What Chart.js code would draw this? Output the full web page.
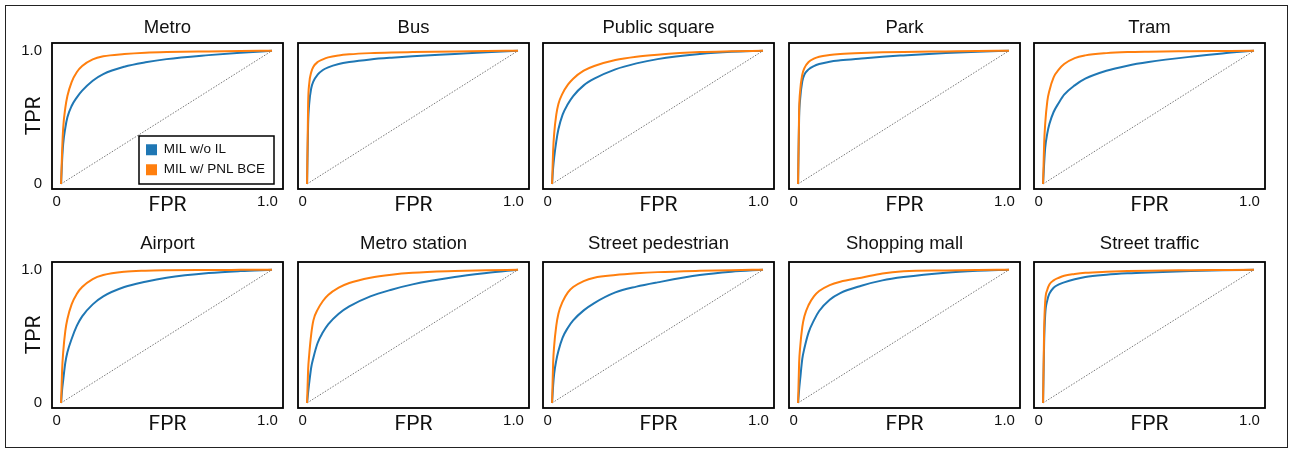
<!DOCTYPE html>
<html>
<head>
<meta charset="utf-8">
<script src="https://cdn.jsdelivr.net/npm/chart.js@4/dist/chart.umd.min.js"></script>
<style>
  body { margin: 0; background: #fff; }
  #frame { position: absolute; left: 5px; top: 5px; width: 1283px; height: 443px; border: 1.5px solid #222; box-sizing: border-box; }
  canvas { position: absolute; }
</style>
</head>
<body>
<div id="frame"></div>
<div id="panels"></div>
<script>
// data
var categories = ['Metro', 'Bus', 'Public square', 'Park', 'Tram',
                  'Airport', 'Metro station', 'Street pedestrian', 'Shopping mall', 'Street traffic'];
var seriesNames = ['MIL w/o IL', 'MIL w/ PNL BCE'];
var fpr = [0, 0.005, 0.01, 0.02, 0.03, 0.05, 0.075, 0.1, 0.15, 0.2, 0.3, 0.4, 0.5, 0.7, 0.85, 1.0];
var tprWithoutIL = [
  [0, 0.18, 0.30, 0.42, 0.50, 0.585, 0.65, 0.70, 0.775, 0.825, 0.88, 0.913, 0.937, 0.967, 0.985, 1],
  [0, 0.45, 0.60, 0.72, 0.77, 0.82, 0.855, 0.875, 0.90, 0.915, 0.935, 0.948, 0.958, 0.975, 0.988, 1],
  [0, 0.12, 0.20, 0.32, 0.41, 0.52, 0.60, 0.66, 0.74, 0.79, 0.86, 0.905, 0.937, 0.975, 0.992, 1],
  [0, 0.50, 0.64, 0.77, 0.82, 0.86, 0.885, 0.90, 0.918, 0.928, 0.942, 0.955, 0.965, 0.983, 0.993, 1],
  [0, 0.15, 0.27, 0.38, 0.45, 0.54, 0.61, 0.67, 0.74, 0.79, 0.85, 0.888, 0.915, 0.955, 0.98, 1],
  [0, 0.10, 0.17, 0.30, 0.38, 0.48, 0.58, 0.65, 0.74, 0.80, 0.87, 0.91, 0.94, 0.975, 0.99, 1],
  [0, 0.08, 0.15, 0.27, 0.34, 0.45, 0.53, 0.59, 0.67, 0.725, 0.80, 0.85, 0.89, 0.945, 0.975, 1],
  [0, 0.13, 0.22, 0.32, 0.39, 0.49, 0.565, 0.62, 0.695, 0.75, 0.83, 0.873, 0.905, 0.96, 0.985, 1],
  [0, 0.10, 0.18, 0.33, 0.41, 0.53, 0.62, 0.69, 0.775, 0.825, 0.88, 0.92, 0.945, 0.978, 0.992, 1],
  [0, 0.45, 0.66, 0.77, 0.82, 0.865, 0.89, 0.905, 0.928, 0.945, 0.962, 0.973, 0.98, 0.99, 0.996, 1]
];
var tprPnlBce = [
  [0, 0.25, 0.42, 0.57, 0.66, 0.765, 0.84, 0.885, 0.935, 0.958, 0.975, 0.985, 0.99, 0.995, 0.998, 1],
  [0, 0.60, 0.75, 0.84, 0.88, 0.915, 0.935, 0.95, 0.965, 0.973, 0.982, 0.987, 0.99, 0.995, 0.998, 1],
  [0, 0.25, 0.38, 0.52, 0.60, 0.68, 0.745, 0.79, 0.85, 0.885, 0.93, 0.955, 0.97, 0.99, 0.996, 1],
  [0, 0.55, 0.70, 0.82, 0.87, 0.915, 0.94, 0.955, 0.968, 0.975, 0.983, 0.988, 0.991, 0.995, 0.998, 1],
  [0, 0.30, 0.45, 0.62, 0.70, 0.80, 0.86, 0.90, 0.945, 0.965, 0.982, 0.99, 0.993, 0.996, 0.998, 1],
  [0, 0.25, 0.38, 0.54, 0.63, 0.74, 0.82, 0.87, 0.93, 0.96, 0.985, 0.993, 0.996, 0.998, 0.999, 1],
  [0, 0.25, 0.36, 0.52, 0.62, 0.70, 0.765, 0.81, 0.865, 0.90, 0.94, 0.963, 0.977, 0.99, 0.996, 1],
  [0, 0.30, 0.43, 0.58, 0.67, 0.76, 0.83, 0.87, 0.915, 0.94, 0.96, 0.973, 0.982, 0.992, 0.997, 1],
  [0, 0.30, 0.42, 0.57, 0.65, 0.735, 0.80, 0.84, 0.885, 0.91, 0.94, 0.972, 0.988, 0.995, 0.998, 1],
  [0, 0.55, 0.76, 0.85, 0.89, 0.92, 0.94, 0.955, 0.968, 0.977, 0.985, 0.99, 0.993, 0.996, 0.998, 1]
];
var chanceLine = [0, 1];
var tickValues = [0, 1];
var tickLabels = ['0', '1.0'];

var BLUE = '#1f77b4';
var ORANGE = '#ff7f0e';
var FONT = "'Liberation Sans', Arial, sans-serif";

function points(xs, ys) {
  var out = [];
  for (var i = 0; i < xs.length; i++) out.push({ x: xs[i], y: ys[i] });
  return out;
}

// black box round the plot area, plus the legend frame on the first panel
var framePlugin = {
  id: 'frameBox',
  afterLayout: function(chart) {
    var lg = chart.legend;
    if (!chart.options.plugins.legend.display || !lg) return;
    lg.left = 139.5; lg.top = 122.5; lg.right = 274; lg.bottom = 180;
    lg.width = lg.right - lg.left; lg.height = lg.bottom - lg.top;
  },
  afterDraw: function(chart) {
    var a = chart.chartArea, ctx = chart.ctx;
    ctx.save();
    ctx.strokeStyle = '#000';
    ctx.lineWidth = 1.8;
    ctx.strokeRect(a.left, a.top, a.right - a.left, a.bottom - a.top);
    if (chart.options.plugins.legend.display) {
      ctx.lineWidth = 1.5;
      ctx.strokeRect(139, 122, 135, 48);
    }
    ctx.restore();
  }
};

var holder = document.getElementById('panels');
for (let k = 0; k < categories.length; k++) {
  let row = Math.floor(k / 5), col = k % 5;
  let boxLeft = 52 + col * 245.5;
  let boxTop = row == 0 ? 43 : 262;
  let cv = document.createElement('canvas');
  cv.style.left = (boxLeft - 52) + 'px';
  cv.style.top = (boxTop - 29) + 'px';
  cv.style.width = '293px';
  cv.style.height = '205px';
  cv.width = 293; cv.height = 205;
  holder.appendChild(cv);

  let firstCol = col == 0;
  new Chart(cv.getContext('2d'), {
    type: 'scatter',
    data: {
      datasets: [{
        label: seriesNames[0],
        data: points(fpr, tprWithoutIL[k]),
        showLine: true, borderColor: BLUE, backgroundColor: BLUE,
        borderWidth: 2, pointRadius: 0, cubicInterpolationMode: 'monotone', order: 2
      }, {
        label: seriesNames[1],
        data: points(fpr, tprPnlBce[k]),
        showLine: true, borderColor: ORANGE, backgroundColor: ORANGE,
        borderWidth: 2, pointRadius: 0, cubicInterpolationMode: 'monotone', order: 1
      }, {
        label: 'chance',
        data: points(chanceLine, chanceLine),
        showLine: true, borderColor: '#555', borderWidth: 0.8, borderDash: [1.5, 1.5],
        pointRadius: 0, order: 3
      }]
    },
    options: {
      responsive: false,
      animation: false,
      events: [],
      layout: { padding: { left: 0, right: 10, top: 0, bottom: 0 } },
      plugins: {
        title: {
          display: true, text: categories[k], fullSize: false, color: '#111',
          font: { family: FONT, size: 18.5, weight: 'normal' },
          padding: row == 0 ? { top: 3.2, bottom: 3.6 } : { top: 0.2, bottom: 6.6 }
        },
        legend: {
          display: k == 0,
          position: 'chartArea',
          align: 'start',
          labels: {
            boxWidth: 11, boxHeight: 11, padding: 6.5, color: '#111',
            font: { family: FONT, size: 13.5 },
            sort: function(a, b) { return a.datasetIndex - b.datasetIndex; },
            generateLabels: function(chart) {
              return Chart.defaults.plugins.legend.labels.generateLabels(chart)
                .filter(function(l) { return l.datasetIndex < 2; })
                .map(function(l) { l.lineWidth = 0; return l; });
            }
          }
        },
        tooltip: { enabled: false }
      },
      scales: {
        x: {
          type: 'linear', min: -0.043, max: 1.052,
          grid: { display: false, drawTicks: false },
          border: { display: false },
          afterBuildTicks: function(s) { s.ticks = tickValues.map(function(v) { return { value: v }; }); },
          afterFit: function(s) { s.height = 30; },
          ticks: {
            padding: 4, labelOffset: -4.5, color: '#111', maxRotation: 0, autoSkip: false,
            font: { family: FONT, size: 15 },
            callback: function(v) { return tickLabels[tickValues.indexOf(v)]; }
          },
          title: {
            display: true, text: 'FPR', color: '#111',
            font: { family: "Roboto, sans-serif", size: 21 },
            padding: { top: 0, bottom: 0.4 }
          }
        },
        y: {
          type: 'linear', min: -0.038, max: 1.058,
          grid: { display: false, drawTicks: false },
          border: { display: false },
          afterBuildTicks: function(s) { s.ticks = tickValues.map(function(v) { return { value: v }; }); },
          afterFit: function(s) { s.width = 52; },
          ticks: {
            display: firstCol, padding: 10, color: '#111', autoSkip: false,
            font: { family: FONT, size: 15 },
            callback: function(v) { return tickLabels[tickValues.indexOf(v)]; }
          },
          title: {
            display: firstCol, text: 'TPR', color: '#111',
            font: { family: "Roboto, sans-serif", size: 21 },
            padding: { top: 22.4, bottom: 0 }
          }
        }
      }
    },
    plugins: [framePlugin]
  });
}
</script>
</body>
</html>
